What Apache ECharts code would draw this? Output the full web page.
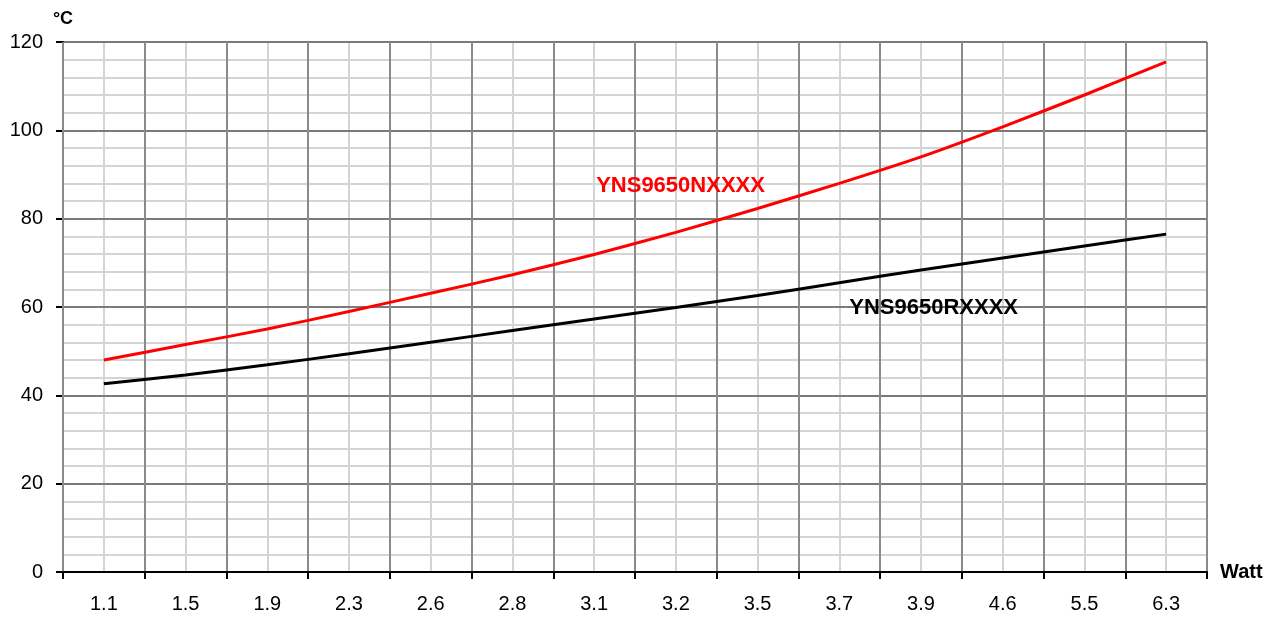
<!DOCTYPE html>
<html>
<head>
<meta charset="utf-8">
<script src="https://cdn.jsdelivr.net/npm/echarts@6/dist/echarts.min.js"></script>
<style>
html,body{margin:0;padding:0;background:#fff;}
#chart{width:1280px;height:618px;}
</style>
</head>
<body>
<div id="chart"></div>
<script>
const categories = ['1.1','1.5','1.9','2.3','2.6','2.8','3.1','3.2','3.5','3.7','3.9','4.6','5.5','6.3'];
const seriesNNames = 'YNS9650NXXXX';
const seriesRNames = 'YNS9650RXXXX';
const valuesN = [48, 51.5, 55, 59, 63.1, 67.3, 71.9, 76.9, 82.3, 88, 94, 100.8, 108, 115.5];
const valuesR = [42.6, 44.6, 46.9, 49.4, 52.0, 54.7, 57.3, 59.9, 62.6, 65.5, 68.4, 71.1, 73.8, 76.5];
const labelN = { cat: '3.1', value: 87.4 };
const labelR = { cat: '3.7', value: 59.8 };
const halfSteps = 28;

const FONT = '"Liberation Sans", Arial, sans-serif';
const chart = echarts.init(document.getElementById('chart'), null, { renderer: 'canvas' });

chart.setOption({
  animation: false,
  backgroundColor: '#fff',
  grid: { left: 63, right: 73, top: 42, bottom: 46, containLabel: false },
  xAxis: [
    {
      type: 'category',
      data: categories,
      boundaryGap: true,
      z: 3,
      name: 'Watt',
      nameLocation: 'end',
      nameGap: 13,
      nameTextStyle: { color: '#000', fontFamily: FONT, fontWeight: 'bold', fontSize: 20, verticalAlign: 'middle' },
      axisLine: { show: true, lineStyle: { color: '#000', width: 2 } },
      axisTick: { show: true, length: 7, lineStyle: { color: '#000', width: 2 } },
      axisLabel: { color: '#000', fontFamily: FONT, fontSize: 20, margin: 22 },
      splitLine: { show: true, lineStyle: { color: '#8a8a8a', width: 2 } }
    },
    {
      type: 'value',
      min: 0,
      max: halfSteps,
      interval: 1,
      z: 1,
      show: true,
      axisLine: { show: false },
      axisTick: { show: false },
      axisLabel: { show: false },
      splitLine: { show: true, lineStyle: { color: '#d4d4d4', width: 2 } }
    }
  ],
  yAxis: {
    type: 'value',
    min: 0,
    max: 120,
    interval: 20,
    z: 2,
    name: '°C',
    nameLocation: 'end',
    nameGap: 14,
    nameTextStyle: { color: '#000', fontFamily: FONT, fontWeight: 'bold', fontSize: 18 },
    axisLine: { show: true, lineStyle: { color: '#000', width: 2 } },
    axisTick: { show: true, length: 7, lineStyle: { color: '#000', width: 2 } },
    axisLabel: { color: '#000', fontFamily: FONT, fontSize: 20, margin: 20 },
    splitLine: { show: true, lineStyle: { color: '#7a7a7a', width: 2 } },
    minorTick: { show: false, splitNumber: 5 },
    minorSplitLine: { show: true, lineStyle: { color: '#d4d4d4', width: 2 } }
  },
  series: [
    {
      name: seriesRNames,
      type: 'line',
      xAxisIndex: 0,
      data: valuesR,
      symbol: 'none',
      smooth: 0.2,
      z: 5,
      lineStyle: { color: '#000', width: 3 },
      markPoint: {
        symbol: 'circle',
        symbolSize: 0,
        data: [{ coord: [labelR.cat, labelR.value] }],
        label: {
          show: true, formatter: seriesRNames, position: 'right', distance: 10,
          color: '#000', fontFamily: FONT, fontWeight: 'bold', fontSize: 22
        }
      }
    },
    {
      name: seriesNNames,
      type: 'line',
      xAxisIndex: 0,
      data: valuesN,
      symbol: 'none',
      smooth: 0.2,
      z: 6,
      lineStyle: { color: '#ff0000', width: 3 },
      markPoint: {
        symbol: 'circle',
        symbolSize: 0,
        data: [{ coord: [labelN.cat, labelN.value] }],
        label: {
          show: true, formatter: seriesNNames, position: 'right', distance: 2,
          color: '#ff0000', fontFamily: FONT, fontWeight: 'bold', fontSize: 22
        }
      }
    }
  ]
});
</script>
</body>
</html>
